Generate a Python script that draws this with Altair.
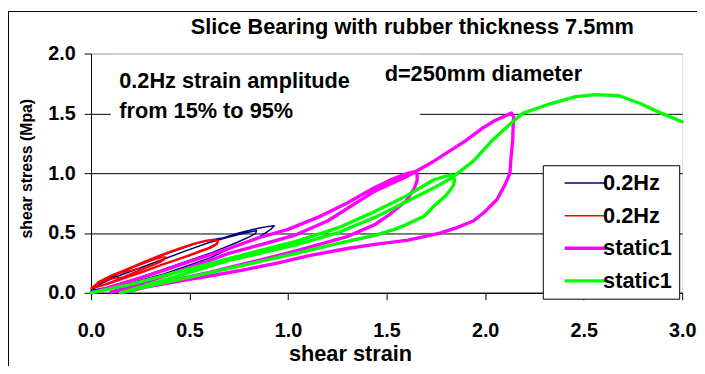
import altair as alt
import pandas as pd

# ---------------- data ----------------
keys = ["a", "b", "c", "d"]
names = ["0.2Hz", "0.2Hz", "static1", "static1"]
colors = ["#000080", "#FF0000", "#FF00FF", "#00FF00"]
widths = [1.5, 1.5, 3.4, 3.4]

blue_x = [0.0, 0.05, 0.10, 0.19, 0.27, 0.355, 0.44, 0.52, 0.60, 0.66, 0.75, 0.85, 0.90, 0.93,
          0.915, 0.89, 0.85, 0.806, 0.72, 0.60, 0.48, 0.355, 0.22, 0.10, 0.0,
          0.05, 0.12, 0.22, 0.35, 0.48, 0.60, 0.70, 0.78, 0.84,
          0.835, 0.80, 0.74, 0.62, 0.48, 0.34, 0.20, 0.08, 0.0]
blue_y = [0.02, 0.08, 0.13, 0.20, 0.255, 0.31, 0.36, 0.405, 0.44, 0.455, 0.50, 0.54, 0.555, 0.56,
          0.535, 0.505, 0.465, 0.435, 0.38, 0.29, 0.22, 0.15, 0.09, 0.045, 0.02,
          0.075, 0.13, 0.19, 0.27, 0.35, 0.42, 0.465, 0.50, 0.52,
          0.495, 0.465, 0.42, 0.34, 0.26, 0.18, 0.10, 0.045, 0.02]

red_x = [0.0, 0.04, 0.10, 0.19, 0.27, 0.355, 0.44, 0.52, 0.58, 0.62, 0.647,
         0.64, 0.61, 0.57, 0.50, 0.44, 0.35, 0.27, 0.18, 0.10, 0.03, 0.0,
         0.04, 0.10, 0.19, 0.27, 0.355, 0.44, 0.52, 0.58, 0.62, 0.645,
         0.635, 0.60, 0.56, 0.50, 0.44, 0.35, 0.27, 0.18, 0.10, 0.03, 0.0,
         0.05, 0.10, 0.18, 0.26, 0.32, 0.36, 0.38,
         0.375, 0.35, 0.30, 0.22, 0.14, 0.06, 0.0,
         0.05, 0.10, 0.18, 0.26, 0.32, 0.36, 0.375,
         0.37, 0.34, 0.29, 0.21, 0.13, 0.05, 0.0,
         0.04, 0.10, 0.16, 0.21, 0.24,
         0.235, 0.20, 0.14, 0.07, 0.0,
         0.04, 0.09, 0.13, 0.155,
         0.15, 0.11, 0.05, 0.0]
red_y = [0.035, 0.09, 0.14, 0.20, 0.255, 0.31, 0.36, 0.405, 0.43, 0.44, 0.435,
         0.405, 0.375, 0.35, 0.31, 0.275, 0.225, 0.175, 0.125, 0.08, 0.045, 0.035,
         0.095, 0.145, 0.205, 0.262, 0.318, 0.368, 0.412, 0.437, 0.446, 0.44,
         0.41, 0.38, 0.355, 0.318, 0.283, 0.232, 0.182, 0.13, 0.085, 0.05, 0.04,
         0.09, 0.135, 0.19, 0.24, 0.275, 0.295, 0.30,
         0.28, 0.255, 0.22, 0.165, 0.11, 0.06, 0.04,
         0.095, 0.14, 0.195, 0.245, 0.28, 0.298, 0.30,
         0.28, 0.255, 0.22, 0.165, 0.11, 0.06, 0.04,
         0.085, 0.135, 0.17, 0.19, 0.20,
         0.18, 0.155, 0.115, 0.07, 0.04,
         0.08, 0.11, 0.125, 0.13,
         0.115, 0.09, 0.06, 0.04]

mag_x = [0.0, 0.10, 0.30, 0.50, 0.70, 0.85, 1.00, 1.15, 1.30, 1.44, 1.53, 1.60, 1.64,
         1.655, 1.655, 1.64, 1.60, 1.52, 1.44, 1.30, 1.15, 1.04, 0.85, 0.60, 0.40, 0.20, 0.10,
         0.30, 0.50, 0.70, 0.90, 1.04, 1.20, 1.44, 1.60, 1.74, 1.90, 1.99, 2.05, 2.09, 2.134,
         2.145, 2.142, 2.14, 2.13, 2.126, 2.10, 2.06, 2.00, 1.94, 1.85, 1.775, 1.61, 1.44, 1.30,
         1.107, 0.95, 0.77, 0.60, 0.44, 0.27, 0.19]
mag_y = [0.0, 0.05, 0.15, 0.26, 0.37, 0.46, 0.53, 0.63, 0.75, 0.88, 0.95, 0.995, 1.01,
         0.99, 0.94, 0.87, 0.77, 0.66, 0.57, 0.47, 0.40, 0.35, 0.27, 0.17, 0.10, 0.03, 0.005,
         0.10, 0.21, 0.33, 0.42, 0.485, 0.60, 0.85, 0.97, 1.10, 1.27, 1.38, 1.44, 1.47, 1.503,
         1.47, 1.38, 1.28, 1.10, 1.00, 0.90, 0.78, 0.68, 0.60, 0.54, 0.50, 0.44, 0.405, 0.37,
         0.31, 0.25, 0.19, 0.14, 0.095, 0.045, 0.01]

grn_x = [0.0, 0.20, 0.50, 0.80, 1.04, 1.25, 1.44, 1.60, 1.74, 1.80, 1.83,
         1.845, 1.84, 1.80, 1.74, 1.69, 1.60, 1.54, 1.44, 1.25, 1.04, 0.80, 0.50, 0.30, 0.15,
         0.40, 0.70, 1.04, 1.25, 1.44, 1.60, 1.74, 1.83, 1.94, 2.04, 2.14, 2.19, 2.33, 2.46,
         2.56, 2.68, 2.79, 2.895, 3.0]
grn_y = [0.0, 0.07, 0.20, 0.33, 0.43, 0.54, 0.68, 0.81, 0.945, 0.975, 0.985,
         0.95, 0.90, 0.81, 0.725, 0.64, 0.57, 0.53, 0.48, 0.41, 0.33, 0.24, 0.13, 0.06, 0.0,
         0.12, 0.27, 0.40, 0.50, 0.63, 0.76, 0.877, 0.96, 1.10, 1.28, 1.43, 1.50, 1.58, 1.64,
         1.656, 1.647, 1.58, 1.50, 1.43]

ann_text = ["0.2Hz strain amplitude", "from 15% to 95%", "d=250mm diameter"]
ann_x = [0.143, 0.143, 1.49]
ann_y = [1.769, 1.523, 1.825]

cover_x = [0.10]
cover_x2 = [1.67]
cover_y = [1.44]
cover_y2 = [1.99]

# ---------------- build table ----------------
rows = []
for k, w, xs, ys in zip(keys, widths, [blue_x, red_x, mag_x, grn_x], [blue_y, red_y, mag_y, grn_y]):
    for i, (x, y) in enumerate(zip(xs, ys)):
        rows.append({"key": k, "w": w, "x": x, "y": y, "i": i})
df = pd.DataFrame(rows)

FONT = "Liberation Sans"
label_expr = " : ".join(
    [f"datum.label == '{k}' ? '{n}  '" for k, n in zip(keys, names)]
) + " : ''"
width_expr = " : ".join(
    [f"datum.value == '{k}' ? {w}" for k, w in zip(keys, widths)]
) + " : 1.5"

legend = alt.Legend(
    title=None, orient="none", legendX=457, legendY=113,
    fillColor="white", strokeColor="black", padding=7,
    symbolType="stroke", symbolSize=1750, symbolOffset=25,
    symbolStrokeWidth=alt.ExprRef(width_expr),
    labelFont=FONT, labelFontSize=22, labelFontWeight="bold", labelColor="black",
    labelOffset=7, rowPadding=11, labelExpr=label_expr,
)

xscale = alt.Scale(domain=[0, 3], nice=False, zero=False)
yscale = alt.Scale(domain=[0, 2], nice=False)

x_axis = alt.Axis(
    values=[0, 0.5, 1, 1.5, 2, 2.5, 3], format=".1f", grid=False,
    domainColor="black", tickColor="black", tickSize=7,
    labelFont=FONT, labelFontSize=20, labelFontWeight="bold", labelColor="black",
    labelPadding=21, labelFlush=False,
    title="shear strain", titleFont=FONT, titleFontSize=22, titleFontWeight="bold",
    titleColor="black", titleX=262, titleY=69, titleBaseline="alphabetic", titleAlign="center",
)
y_axis = alt.Axis(
    values=[0, 0.5, 1, 1.5, 2], format=".1f", grid=True,
    gridColor={"condition": {"test": "datum.value >= 2", "value": "#a0a0a0"}, "value": "black"},
    domainColor="black", tickColor="black", tickSize=7,
    labelFont=FONT, labelFontSize=20, labelFontWeight="bold", labelColor="black",
    labelPadding=9, labelFlush=False,
    title="shear stress (Mpa)", titleFont=FONT, titleFontSize=16, titleFontWeight="bold",
    titleColor="black", titleAngle=270, titleX=-60, titleY=116,
    titleBaseline="alphabetic", titleAlign="center",
)

cover = alt.Chart(pd.DataFrame({"x": cover_x, "x2": cover_x2, "y": cover_y, "y2": cover_y2})).mark_rect(
    color="white"
).encode(
    x=alt.X("x:Q", scale=xscale, axis=x_axis), x2="x2:Q",
    y=alt.Y("y:Q", scale=yscale, axis=y_axis), y2="y2:Q",
)

lines = alt.Chart(df).mark_line(strokeJoin="round", strokeCap="round").encode(
    x=alt.X("x:Q", scale=xscale),
    y=alt.Y("y:Q", scale=yscale),
    color=alt.Color("key:N", scale=alt.Scale(domain=keys, range=colors), legend=legend),
    strokeWidth=alt.StrokeWidth("w:Q", scale=None, legend=None),
    order="i:Q",
)

texts = alt.Chart(pd.DataFrame({"t": ann_text, "x": ann_x, "y": ann_y})).mark_text(
    align="left", baseline="middle", font=FONT, fontSize=22, fontWeight="bold", color="black"
).encode(x="x:Q", y="y:Q", text="t:N")

border = alt.Chart(pd.DataFrame({"v": [0]}))
left_border = border.mark_rule(color="black", strokeWidth=1).encode(
    x=alt.value(-83.5), y=alt.value(-42.5), y2=alt.value(320)
)
top_border = border.mark_rule(color="black", strokeWidth=1).encode(
    x=alt.value(-84), x2=alt.value(620), y=alt.value(-42.5)
)

chart = alt.layer(cover, lines, texts, left_border, top_border).properties(
    width=598, height=242,
    autosize=alt.AutoSizeParams(type="none"),
    padding={"left": 84, "top": 44, "right": 15, "bottom": 72},
    title=alt.TitleParams(
        "Slice Bearing with rubber thickness 7.5mm", font=FONT, fontSize=22, fontWeight="bold",
        color="black", anchor="middle", dx=26, offset=-45, baseline="alphabetic",
    ),
).configure_view(stroke="#a0a0a0", strokeWidth=1).configure(background="white")

chart.save("out.html", embed_options={"renderer": "svg", "actions": False})
